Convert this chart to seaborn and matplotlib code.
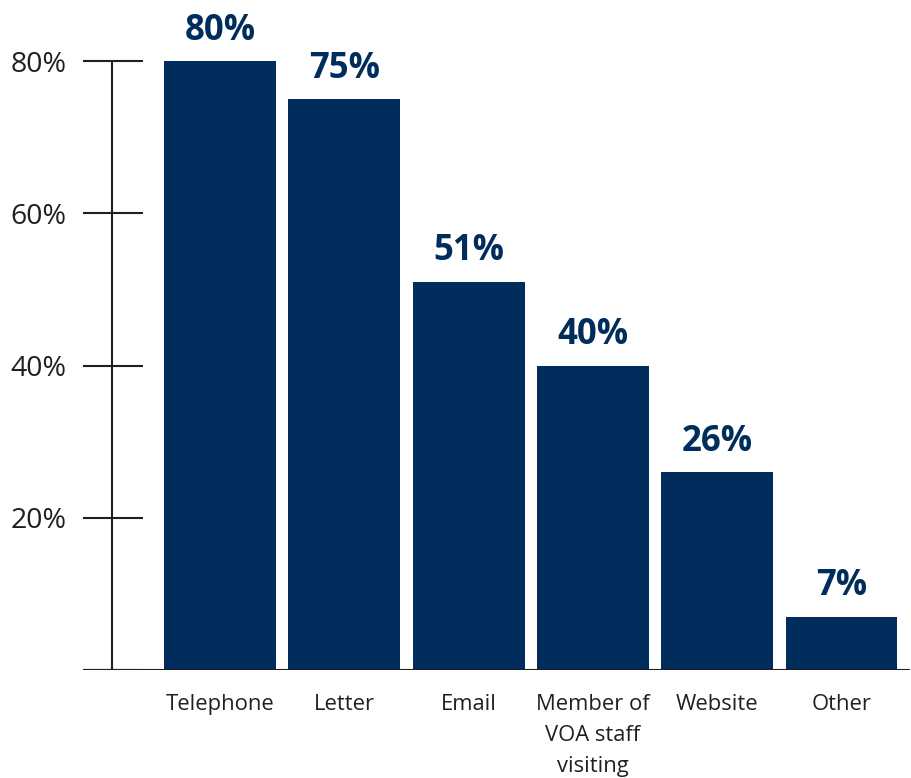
import matplotlib
matplotlib.use("Agg")
import matplotlib.pyplot as plt
import seaborn as sns
import pandas as pd

# Contact channels and share of respondents using each
channels = ["Telephone", "Letter", "Email", "Member of\nVOA staff\nvisiting", "Website", "Other"]
shares = [80, 75, 51, 40, 26, 7]
y_ticks = [20, 40, 60, 80]
y_tick_labels = ["20%", "40%", "60%", "80%"]

NAVY = "#002d5c"
INK = "#231f20"

sns.set_theme(style="white")
plt.rcParams["font.family"] = ["Open Sans", "DejaVu Sans"]

df = pd.DataFrame({"channel": channels, "share": shares})

fig = plt.figure(figsize=(9.12, 7.78), dpi=100)
ax = fig.add_axes([83 / 912, 108 / 778, 827 / 912, 650 / 778])

sns.barplot(data=df, x="channel", y="share", color=NAVY, saturation=1,
            width=0.9, ax=ax, edgecolor="none")

ax.set_xlim(-1.102, 5.551)
ax.set_ylim(0, 85.39)

for s in ax.spines.values():
    s.set_visible(False)

# Axis frame: baseline, vertical rule and tick bars
ax.axhline(0, color=INK, lw=1.5, zorder=3)
ax.vlines(-0.869, 0, 80, color=INK, lw=1.5, zorder=3)
ax.hlines(y_ticks + [0], -1.102, -0.619, color=INK, lw=1.5, zorder=3)

ax.set_yticks(y_ticks)
ax.set_yticklabels(y_tick_labels, fontsize=20.5, color=INK)
ax.tick_params(axis="y", length=0, pad=12)
ax.tick_params(axis="x", length=0, pad=17)
for lbl in ax.get_xticklabels():
    lbl.set_fontsize(15.8)
    lbl.set_color(INK)
    lbl.set_linespacing(1.65)
    lbl.set_verticalalignment("top")

ax.set_xlabel("")
ax.set_ylabel("")

for cont in ax.containers:
    ax.bar_label(cont, labels=[f"{v}%" for v in shares], padding=9,
                 fontsize=25, fontweight="bold", color=NAVY)

fig.savefig("out.png", dpi=100)
